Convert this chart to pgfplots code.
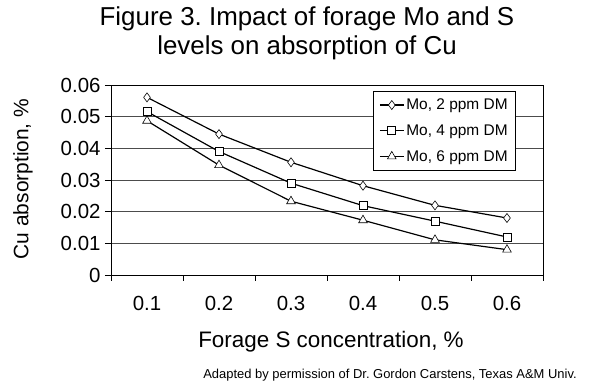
\documentclass[border=0pt]{standalone}
\usepackage{pgfplots}
\pgfplotsset{compat=1.18}
\usepackage{fontspec}
\setmainfont{Liberation Sans}
\frenchspacing
\begin{document}
\begin{tikzpicture}
\path[use as bounding box] (0,0) rectangle (592bp,390bp);
\begin{axis}[
  at={(111bp,115bp)}, anchor=south west,
  scale only axis, width=432bp, height=190bp,
  xmin=0.5, xmax=6.5, ymin=0, ymax=0.06,
  scaled y ticks=false,
  xtick pos=bottom, ytick pos=left,
  xtick={1,...,6},
  xticklabels={0.1,0.2,0.3,0.4,0.5,0.6},
  major x tick style={draw=none},
  minor xtick={0.5,1.5,...,6.5},
  minor x tick style={black, line width=0.8pt},
  minor tick length=6bp,
  ytick={0,0.01,0.02,0.03,0.04,0.05,0.06},
  yticklabels={0,0.01,0.02,0.03,0.04,0.05,0.06},
  y tick style={black, line width=0.8pt},
  major tick length=6bp,
  tick align=outside,
  ymajorgrids, grid style={black!70, line width=0.8pt},
  axis line style={black, line width=0.9pt},
  tick label style={font=\fontsize{20.5}{23}\selectfont},
  xticklabel style={yshift=-12bp},
  yticklabel style={xshift=-1bp},
  /pgf/number format/assume math mode=true,
  legend style={at={(0.606,0.971)}, anchor=north west, draw=black, line width=0.8pt,
    font=\fontsize{15.5}{18}\selectfont, row sep=9.5bp, inner xsep=6bp, inner ysep=6bp,
    legend cell align=left, /tikz/every even column/.append style={column sep=0bp}},
  legend image code/.code={\draw[#1, mark repeat=2, mark phase=2] plot coordinates {(0bp,0bp) (12bp,0bp) (24bp,0bp)};},
  every axis plot/.append style={black, line width=1.2pt, mark options={solid, fill=white, line width=0.6pt}},
]
\addplot[mark=diamond*, mark size=4.5bp] coordinates {(1,0.0561) (2,0.0445) (3,0.0356) (4,0.0282) (5,0.0220) (6,0.0180)};
\addlegendentry{Mo, 2 ppm DM}
\addplot[mark=square*, mark size=4bp] coordinates {(1,0.0516) (2,0.0390) (3,0.0290) (4,0.0219) (5,0.0170) (6,0.0120)};
\addlegendentry{Mo, 4 ppm DM}
\addplot[mark=triangle*, mark size=5bp] coordinates {(1,0.0487) (2,0.0347) (3,0.0233) (4,0.0173) (5,0.0111) (6,0.0080)};
\addlegendentry{Mo, 6 ppm DM}
\end{axis}
\node[font=\fontsize{26}{29}\selectfont, align=center] at (307bp,357bp) {Figure 3. Impact of forage Mo and S\\levels on absorption of Cu};
\node[font=\fontsize{21}{24}\selectfont, rotate=90] at (23bp,211bp) {Cu absorption, \%};
\node[font=\fontsize{22.5}{26}\selectfont] at (331bp,48bp) {Forage S concentration, \%};
\node[font=\fontsize{13}{15}\selectfont] at (390bp,15bp) {Adapted by permission of Dr. Gordon Carstens, Texas A\&M Univ.};
\end{tikzpicture}
\end{document}
